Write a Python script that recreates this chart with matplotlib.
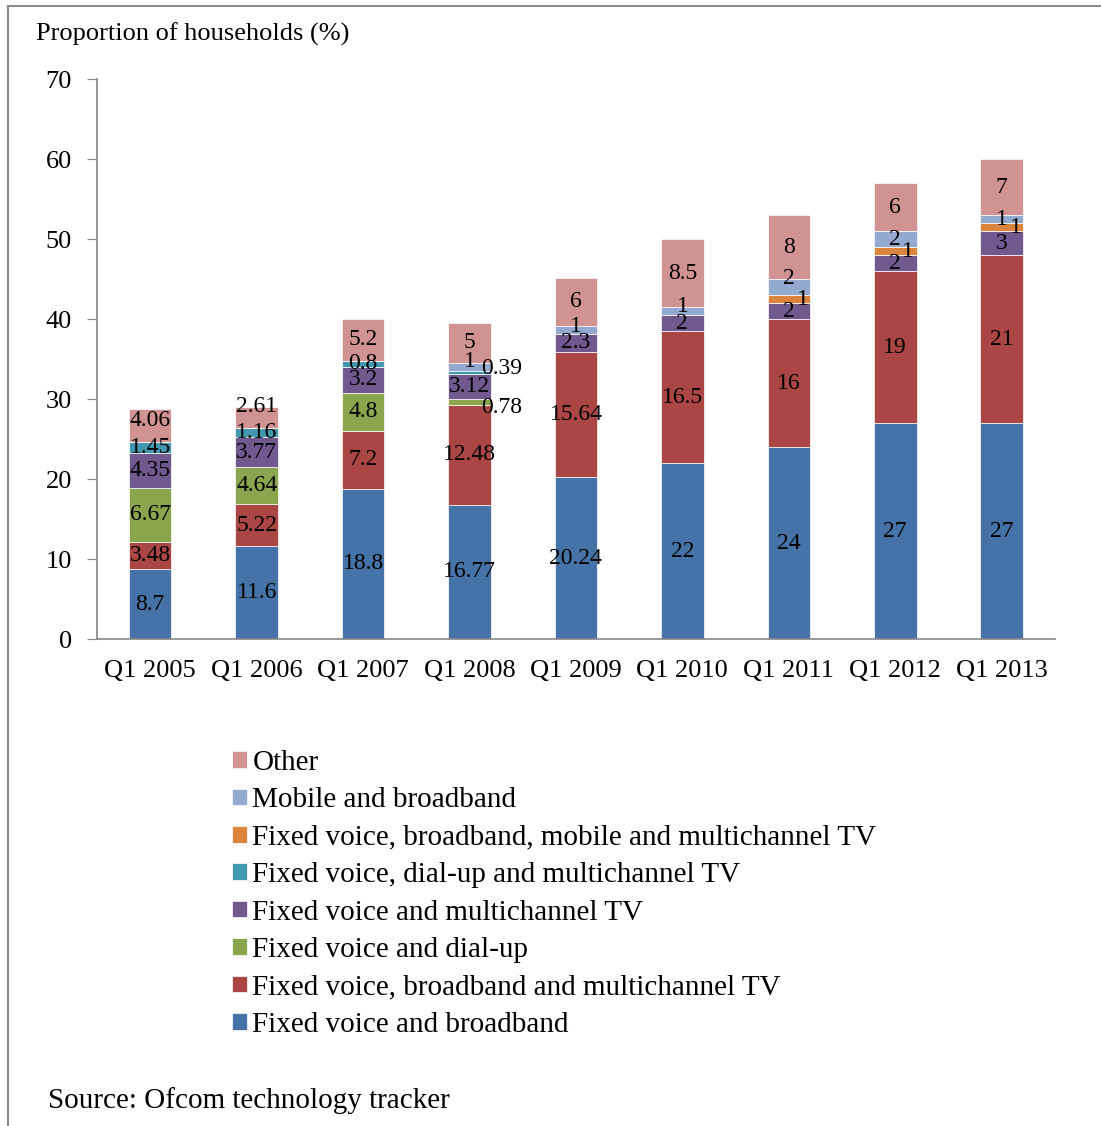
import numpy as np
import matplotlib.pyplot as plt
from matplotlib.lines import Line2D

plt.rcParams['font.family'] = ['Liberation Serif', 'DejaVu Serif']

# Dados (série de baixo para cima)
quarters = ["Q1 2005", "Q1 2006", "Q1 2007", "Q1 2008", "Q1 2009",
            "Q1 2010", "Q1 2011", "Q1 2012", "Q1 2013"]

fixed_broadband = [8.7, 11.6, 18.8, 16.77, 20.24, 22, 24, 27, 27]
fixed_broadband_tv = [3.48, 5.22, 7.2, 12.48, 15.64, 16.5, 16, 19, 21]
fixed_dialup = [6.67, 4.64, 4.8, 0.78, 0, 0, 0, 0, 0]
fixed_tv = [4.35, 3.77, 3.2, 3.12, 2.3, 2, 2, 2, 3]
fixed_dialup_tv = [1.45, 1.16, 0.8, 0.39, 0, 0, 0, 0, 0]
fixed_broadband_mobile_tv = [0, 0, 0, 0, 0, 0, 1, 1, 1]
mobile_broadband = [0, 0, 0, 1, 1, 1, 2, 2, 1]
other = [4.06, 2.61, 5.2, 5, 6, 8.5, 8, 6, 7]

series_names = ["Fixed voice and broadband",
                "Fixed voice, broadband and multichannel TV",
                "Fixed voice and dial-up",
                "Fixed voice and multichannel TV",
                "Fixed voice, dial-up and multichannel TV",
                "Fixed voice, broadband, mobile and multichannel TV",
                "Mobile and broadband",
                "Other"]
series_values = [fixed_broadband, fixed_broadband_tv, fixed_dialup, fixed_tv,
                 fixed_dialup_tv, fixed_broadband_mobile_tv, mobile_broadband, other]
colors = ["#4572A7", "#AA4643", "#89A54E", "#71588F",
          "#4198AF", "#DB843D", "#93A9CF", "#D19392"]

# deslocamentos manuais de alguns rótulos (pontos): (série, coluna) -> (dx, dy)
label_offsets = {
    (2, 3): (23, -4),
    (4, 3): (23, 3),
    (5, 6): (10, 0),
    (5, 7): (9, 0),
    (5, 8): (10, 0),
    (6, 3): (0, 4),
    (6, 4): (0, 2),
    (6, 5): (0, 3),
    (6, 6): (0, 6),
    (7, 1): (0, 8),
    (7, 0): (0, 4),
}

fig = plt.figure(figsize=(11.01, 11.26), dpi=100)
ax = fig.add_axes([0.0881, 0.4325, 0.870, 0.4973])

x = np.arange(len(quarters))
bottom = np.zeros(len(quarters))
for s, (name, vals, col) in enumerate(zip(series_names, series_values, colors)):
    vals = np.array(vals, dtype=float)
    ax.bar(x, vals, width=0.4, bottom=bottom, color=col, label=name,
           edgecolor='white', linewidth=0.5)
    for i, v in enumerate(vals):
        if v > 0:
            dx, dy = label_offsets.get((s, i), (0, 0))
            ax.annotate(f"{v:g}", (x[i], bottom[i] + v / 2), xytext=(dx, dy),
                        textcoords='offset points', ha='center', va='center',
                        fontsize=17, color='black')
    bottom += vals

ax.set_xlim(-0.5, len(quarters) - 0.5)
ax.set_ylim(0, 70)
ax.set_yticks(np.arange(0, 71, 10))
ax.set_xticks(x)
ax.set_xticklabels(quarters)
ax.tick_params(axis='x', length=0, pad=15, labelsize=19)
ax.tick_params(axis='y', length=7, pad=11, labelsize=19, color='#868686',
               direction='out')
for side in ['top', 'right']:
    ax.spines[side].set_visible(False)
for side in ['left', 'bottom']:
    ax.spines[side].set_color('#868686')
    ax.spines[side].set_linewidth(1.2)

handles, labels = ax.get_legend_handles_labels()
fig.legend(handles[::-1], labels[::-1], loc='upper left',
           bbox_to_anchor=(232 / 1101, 1 - 750 / 1126), frameon=False,
           fontsize=21, handlelength=0.5, handleheight=0.5, handletextpad=0.2,
           labelspacing=0.39, borderpad=0, borderaxespad=0)

fig.text(36 / 1101, 1 - 34 / 1126, "Proportion of households (%)",
         fontsize=19, va='center', ha='left')
fig.text(48 / 1101, 1 - 1101 / 1126, "Source: Ofcom technology tracker",
         fontsize=21, va='center', ha='left')

# moldura (apenas topo e esquerda visíveis)
fig.add_artist(Line2D([8 / 1101, 1.0], [1 - 6 / 1126, 1 - 6 / 1126],
                      color='#8c8c8c', linewidth=1.5, transform=fig.transFigure))
fig.add_artist(Line2D([8 / 1101, 8 / 1101], [0.0, 1 - 6 / 1126],
                      color='#8c8c8c', linewidth=1.5, transform=fig.transFigure))

fig.savefig("out.png", dpi=100)
